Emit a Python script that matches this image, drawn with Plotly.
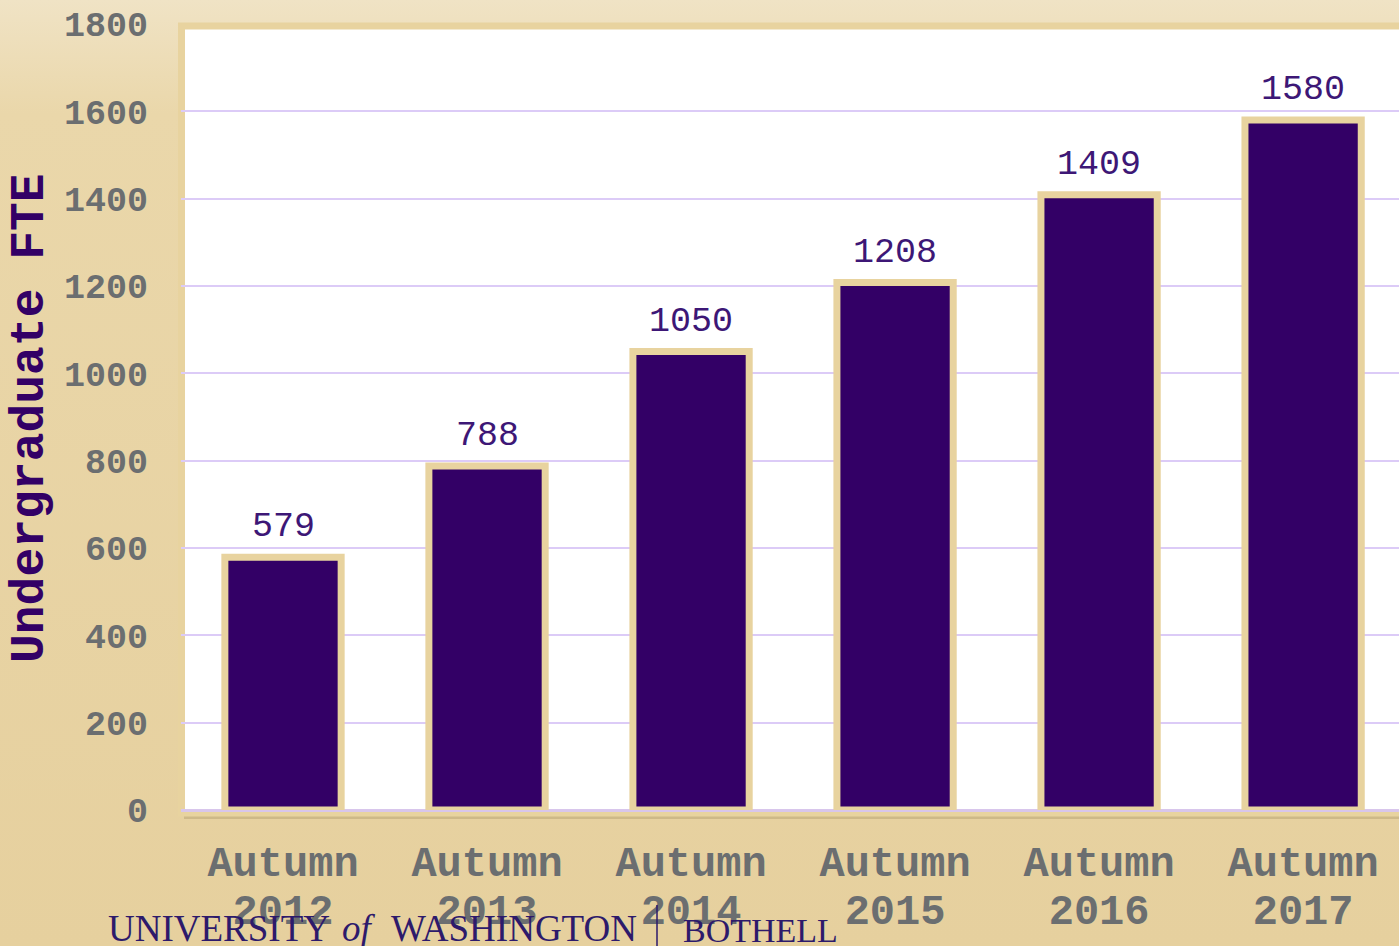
import plotly.graph_objects as go
import urllib.parse

years = ["2012", "2013", "2014", "2015", "2016", "2017"]
season = "Autumn"
values = [579, 788, 1050, 1208, 1409, 1580]
y_ticks = [0, 200, 400, 600, 800, 1000, 1200, 1400, 1600, 1800]

W, H = 1399, 946
ML, MR, MT, MB = 181, 0, 24, 136
PW, PH = W - ML - MR, H - MT - MB

def fx(px):
    return (px - ML) / PW

def fy(py):
    return (H - MB - py) / PH

PURPLE = "#330066"
BEIGE_BORDER = "#E8D39F"
GRAY = "#6B6E70"

fig = go.Figure()
fig.add_trace(go.Bar(
    x=years, y=values, width=0.57,
    marker=dict(color=PURPLE, line=dict(color=BEIGE_BORDER, width=7)),
    hoverinfo="skip",
))
# invisible companion trace so the second (year) axis has its categories
fig.add_trace(go.Scatter(x=years, y=values, xaxis="x2", mode="markers",
                         marker=dict(opacity=0), hoverinfo="skip", showlegend=False))

annotations = []
for i, v in enumerate(values):
    annotations.append(dict(x=i, y=v, xref="x", yref="y", text=str(v), showarrow=False,
                            yanchor="bottom", yshift=8,
                            font=dict(family="Liberation Mono", size=35, color="#3D1776")))

annotations.append(dict(x=fx(30), y=fy(418), xref="paper", yref="paper", text="<b>Undergraduate FTE</b>",
                        textangle=-90, showarrow=False, xanchor="center", yanchor="middle",
                        font=dict(family="Liberation Mono", size=48, color=PURPLE)))

logo_color = "#2D1A6B"
for txt, x0, size, italic in [("UNIVERSITY", 106, 37, False), ("of", 340, 37, True),
                              ("WASHINGTON", 389, 37, False), ("BOTHELL", 681, 34, False)]:
    annotations.append(dict(x=fx(x0), y=fy(951), xref="paper", yref="paper",
                            text=("<i>%s</i>" % txt) if italic else txt, showarrow=False,
                            xanchor="left", yanchor="bottom",
                            font=dict(family="Liberation Serif", size=size, color=logo_color)))

svg = ('<svg xmlns="http://www.w3.org/2000/svg" width="100" height="100" preserveAspectRatio="none">'
       '<defs><linearGradient id="g" x1="0" y1="0" x2="0" y2="1">'
       '<stop offset="0" stop-color="#F0E3C5"/><stop offset="0.12" stop-color="#EAD7AA"/>'
       '<stop offset="1" stop-color="#E6D09E"/></linearGradient></defs>'
       '<rect width="100" height="100" fill="url(#g)"/></svg>')
src = "data:image/svg+xml;charset=utf-8," + urllib.parse.quote(svg)

shapes = [
    dict(type="rect", xref="paper", yref="paper", x0=fx(184), x1=fx(1405), y0=fy(819), y1=fy(812),
         fillcolor="rgba(150,128,85,0.30)", line=dict(width=0), layer="below"),
    dict(type="rect", xref="paper", yref="paper", x0=fx(181.5), x1=fx(1410), y0=fy(813), y1=fy(26),
         fillcolor="white", line=dict(color=BEIGE_BORDER, width=7), layer="below"),
    dict(type="line", xref="paper", yref="paper", x0=fx(657), x1=fx(657), y0=fy(946), y1=fy(905),
         line=dict(color=logo_color, width=1.5)),
]

xfont = dict(family="Liberation Mono", size=42, color=GRAY, weight="bold")
fig.update_layout(
    width=W, height=H,
    margin=dict(l=ML, r=MR, t=MT, b=MB),
    paper_bgcolor="#E8D3A3",
    plot_bgcolor="rgba(0,0,0,0)",
    showlegend=False,
    annotations=annotations,
    shapes=shapes,
    images=[dict(source=src, xref="paper", yref="paper", x=fx(0), y=fy(0), sizex=fx(W) - fx(0),
                 sizey=fy(0) - fy(H), sizing="stretch", xanchor="left", yanchor="top", layer="below")],
    xaxis=dict(type="category", categoryarray=years, range=[-0.5, 5.47], showgrid=False, zeroline=False,
               showline=False, ticks="", tickvals=years, ticktext=[season] * len(years),
               tickfont=xfont, ticklabelstandoff=23, fixedrange=True),
    xaxis2=dict(type="category", categoryarray=years, range=[-0.5, 5.47], overlaying="x", side="bottom",
                anchor="y", showgrid=False, zeroline=False, showline=False, ticks="",
                tickfont=xfont, ticklabelstandoff=71, fixedrange=True),
    yaxis=dict(range=[0, 1800], tickvals=y_ticks, showgrid=True, gridcolor="#DCCBF7", gridwidth=2,
               zeroline=True, zerolinecolor="#D8C6EC", zerolinewidth=3, showline=False, ticks="",
               tickfont=dict(family="Liberation Mono", size=35, color=GRAY, weight="bold"),
               ticklabelstandoff=32, fixedrange=True),
)

fig.write_html("out.html", config={"displayModeBar": False},
               post_script="document.body.style.margin='0';document.body.style.overflow='hidden';")
